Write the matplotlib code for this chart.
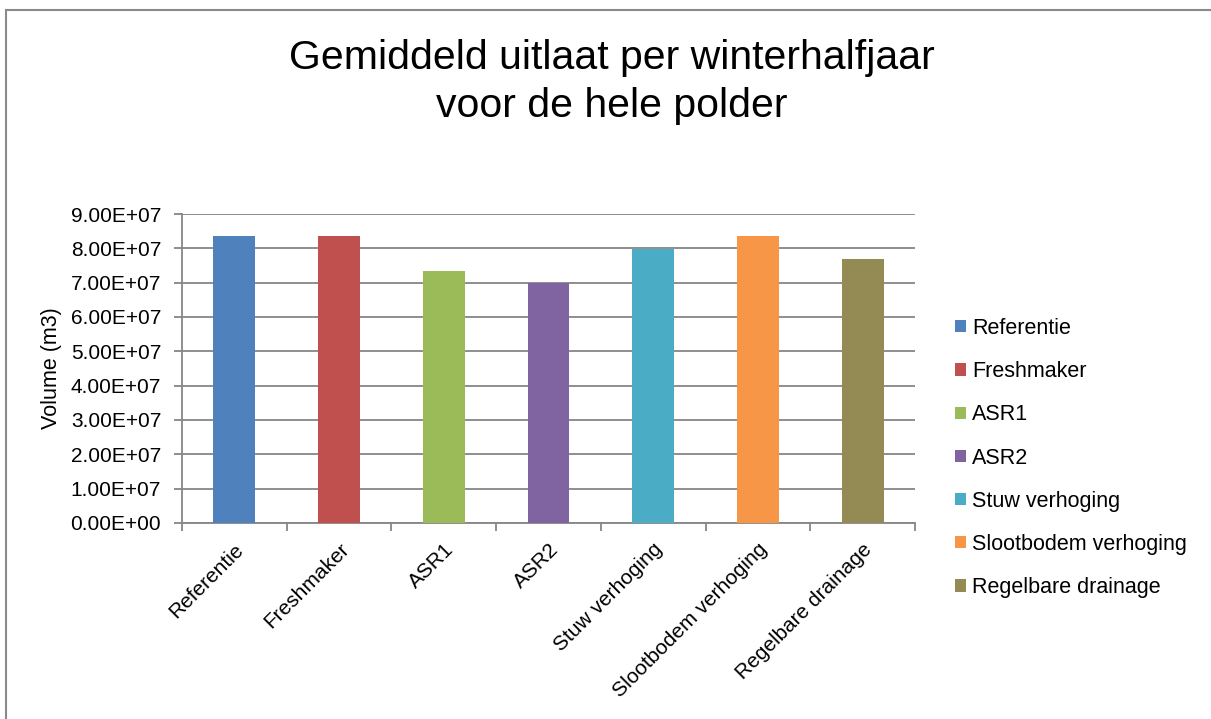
import matplotlib.pyplot as plt
from matplotlib.patches import Patch, Rectangle
from matplotlib.ticker import FuncFormatter, FixedLocator

# scenario names and mean winter outflow (m3)
scenarios = ['Referentie', 'Freshmaker', 'ASR1', 'ASR2', 'Stuw verhoging',
             'Slootbodem verhoging', 'Regelbare drainage']
volumes = [8.36e7, 8.36e7, 7.34e7, 6.98e7, 7.97e7, 8.36e7, 7.69e7]
colors = ['#4F81BD', '#C0504D', '#9BBB59', '#8064A2', '#4BACC6', '#F79646', '#948A54']
y_ticks = [i * 1e7 for i in range(10)]

plt.rcParams['font.family'] = ['Liberation Sans', 'DejaVu Sans']

fig = plt.figure(figsize=(12.11, 7.19), dpi=100)
ax = fig.add_axes([182 / 1211, 1 - 523 / 719, (915 - 182) / 1211, (523 - 214) / 719])

grid_col = '#868686'
x = list(range(len(scenarios)))
ax.bar(x, volumes, width=0.4, color=colors, zorder=3)

ax.set_xlim(-0.5, len(scenarios) - 0.5)
ax.set_ylim(0, 9e7)
ax.set_yticks(y_ticks)
ax.yaxis.set_major_formatter(FuncFormatter(lambda v, p: '%.2fE+%02d' % (v / 1e7, 7) if v else '0.00E+00'))
ax.grid(axis='y', color=grid_col, linewidth=1.3, zorder=1)

ax.set_xticks(x)
ax.set_xticklabels(scenarios, rotation=45, ha='right', rotation_mode='anchor', fontsize=15)
ax.tick_params(axis='x', which='major', length=0, pad=12)
ax.xaxis.set_minor_locator(FixedLocator([i - 0.5 for i in range(len(scenarios) + 1)]))
ax.tick_params(axis='x', which='minor', length=6, width=1.3, color=grid_col)
ax.tick_params(axis='y', length=6, width=1.3, color=grid_col, labelsize=15, pad=9)

for side in ['top', 'right']:
    ax.spines[side].set_visible(False)
ax.spines['left'].set_color(grid_col)
ax.spines['left'].set_linewidth(1.3)
ax.spines['bottom'].set_color(grid_col)
ax.spines['bottom'].set_linewidth(1.3)

ax.set_ylabel('Volume (m3)', fontsize=15.5, labelpad=6)

fig.text(0.505, 1 - 82 / 719, 'Gemiddeld uitlaat per winterhalfjaar\nvoor de hele polder',
         ha='center', va='center', fontsize=29.5, linespacing=1.32)

handles = [Patch(facecolor=c) for c in colors]
fig.legend(handles, scenarios, loc='upper left', bbox_to_anchor=(955 / 1211, 1 - 318 / 719),
           frameon=False, fontsize=15.5, handlelength=0.5, handleheight=0.5,
           handletextpad=0.3, labelspacing=1.03, borderaxespad=0, borderpad=0)

# chart frame
fig.patches.append(Rectangle((6 / 1211, -0.1), 1.2, 1.1 - 10 / 719, transform=fig.transFigure,
                             fill=False, edgecolor='#8a8a8a', linewidth=1.5))

fig.savefig('out.png', dpi=100)
